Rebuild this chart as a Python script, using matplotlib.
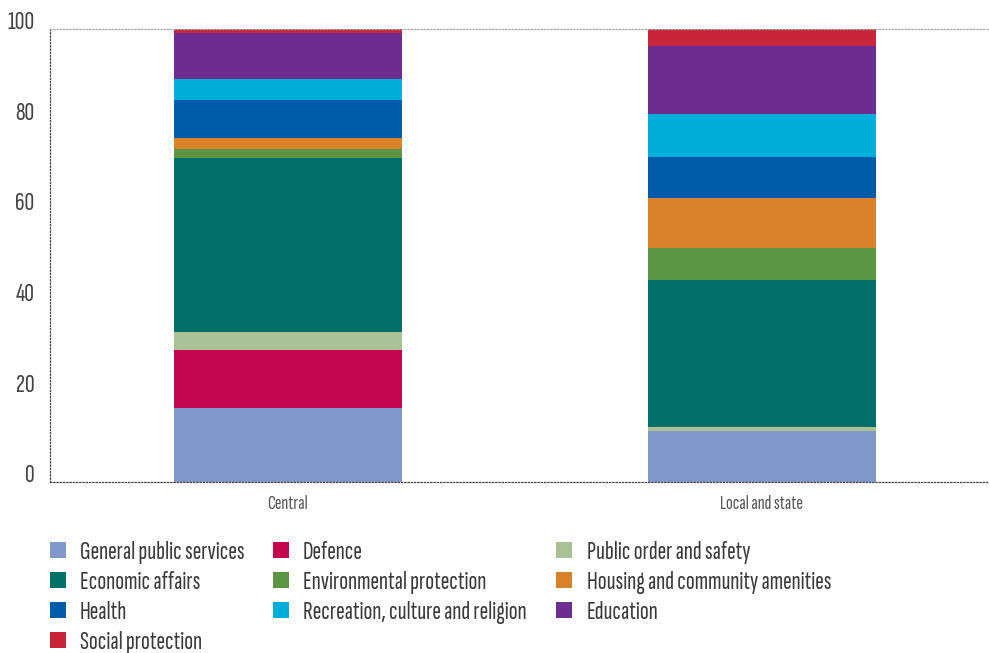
import matplotlib
matplotlib.use("Agg")
import matplotlib.pyplot as plt
from matplotlib.patches import Rectangle

FONT = ['Sofia Sans Extra Condensed', 'DejaVu Sans']
plt.rcParams['font.family'] = FONT

categories = ["Central", "Local and state"]
series_names = [
    "General public services", "Defence", "Public order and safety",
    "Economic affairs", "Environmental protection", "Housing and community amenities",
    "Health", "Recreation, culture and religion", "Education", "Social protection",
]
general_public_services = [16.5, 11.3]
defence = [12.7, 0.0]
public_order = [4.0, 0.9]
economic_affairs = [38.3, 32.5]
environmental = [2.0, 7.0]
housing = [2.5, 11.1]
health = [8.4, 9.0]
recreation = [4.6, 9.5]
education = [10.1, 15.0]
social_protection = [0.9, 3.7]
yticks = [0, 20, 40, 60, 80, 100]

values = [general_public_services, defence, public_order, economic_affairs,
          environmental, housing, health, recreation, education, social_protection]
colors = ["#8098CA", "#C4064F", "#A9C194", "#007068", "#5C9645",
          "#D9822B", "#005BAA", "#00AED9", "#6D2C8F", "#C8253A"]

W, H = 989, 653
fig = plt.figure(figsize=(W/100, H/100), dpi=100)
ax = fig.add_axes([50/W, 1-482.3/H, (988-50)/W, (482.3-29)/H])

x = list(range(len(categories)))
bottom = [0.0]*len(categories)
for name, vals, c in zip(series_names, values, colors):
    ax.bar(x, vals, width=0.481, bottom=bottom, color=c, linewidth=0)
    bottom = [b+v for b, v in zip(bottom, vals)]

ax.set_xlim(-0.502, 1.477)
ax.set_ylim(0, 100)
ax.set_yticks(yticks)
ax.set_yticklabels([str(t) for t in yticks], va='baseline', fontsize=19.5, color='#444444')
ax.tick_params(axis='y', length=0, pad=11)
ax.set_xticks(x)
ax.set_xticklabels(categories, fontsize=14.5, color='#555555')
ax.tick_params(axis='x', length=0, pad=9)

ax.spines['right'].set_visible(False)
for s, col in [('top', '#a8a8a8'), ('bottom', '#444444'), ('left', '#444444')]:
    ax.spines[s].set_linestyle((0, (1, 1.6)))
    ax.spines[s].set_color(col)
    ax.spines[s].set_linewidth(0.9)

# legend, row-wise in 3 columns
sq_x = [50, 273, 556]
tx_x = [80, 303, 587]
for i, (name, c) in enumerate(zip(series_names, colors)):
    r, col = divmod(i, 3)
    yc = 550 + 30*r
    fig.add_artist(Rectangle((sq_x[col]/W, 1-(yc+8)/H), 16/W, 16/H,
                             transform=fig.transFigure, facecolor=c, edgecolor='none'))
    fig.text(tx_x[col]/W, 1-yc/H, name, fontsize=18.8, color='#3a3a3a',
             ha='left', va='center_baseline')

fig.savefig("out.png", dpi=100)
